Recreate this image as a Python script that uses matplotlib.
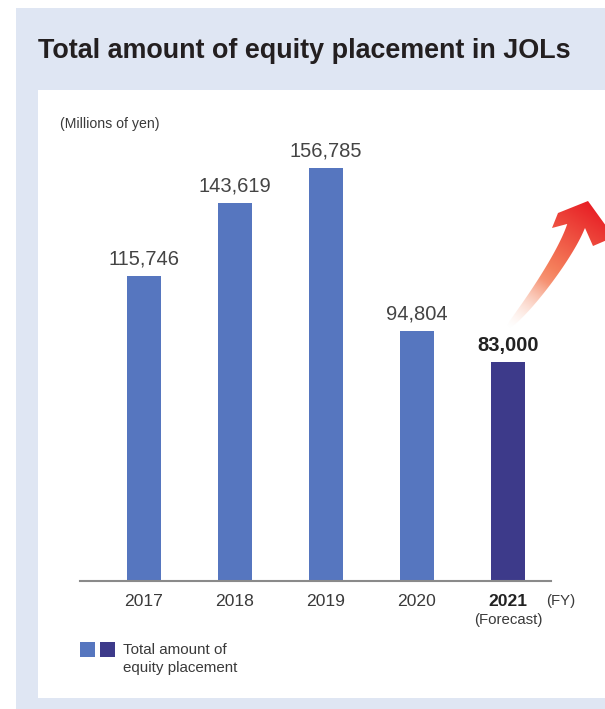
import numpy as np
import matplotlib
matplotlib.use("Agg")
import matplotlib.pyplot as plt
from matplotlib.patches import Rectangle, Polygon

plt.rcParams["font.family"] = ["Liberation Sans", "DejaVu Sans"]

years = ["2017", "2018", "2019", "2020", "2021"]
amounts = [115746, 143619, 156785, 94804, 83000]
forecast = [False, False, False, False, True]

LIGHT = "#5676BF"
DARK = "#3D3A8A"
PANEL = "#DFE6F3"
TXT = "#3a3a3a"

W, H = 605, 709
fig = plt.figure(figsize=(W / 100, H / 100), dpi=100)

# background layer in pixel coordinates (origin top-left)
bg = fig.add_axes([0, 0, 1, 1])
bg.set_xlim(0, W)
bg.set_ylim(H, 0)
bg.axis("off")
bg.add_patch(Rectangle((16, 8), W - 16, H - 8, color=PANEL, lw=0))
bg.add_patch(Rectangle((38, 90), W - 38, 608, color="white", lw=0))

bg.text(38, 51, "Total amount of equity placement in JOLs", fontsize=19.4,
        fontweight="bold", color="#231f20", ha="left", va="center")
bg.text(60, 124, "(Millions of yen)", fontsize=10.2, color=TXT, ha="left", va="center")

# bar chart
x0, x1, base, top = 80, 551, 581, 100
ax = fig.add_axes([x0 / W, (H - base) / H, (x1 - x0) / W, (base - top) / H])
ax.patch.set_alpha(0)
step = 91
xs = np.arange(len(years))
ax.set_xlim((x0 - 144) / step, (x1 - 144) / step)
ax.set_ylim(0, (base - top) / 0.002634)
colors = [DARK if f else LIGHT for f in forecast]
ax.bar(xs, amounts, width=0.374, color=colors)
for x, v, f in zip(xs, amounts, forecast):
    ax.annotate(f"{v:,}", (x, v), xytext=(0, 5.5), textcoords="offset points",
                ha="center", va="bottom", fontsize=14.5,
                fontweight="bold" if f else "normal",
                color="#222222" if f else "#444444")

for s in ["top", "left", "right"]:
    ax.spines[s].set_visible(False)
ax.spines["bottom"].set_color("#8a8a8a")
ax.spines["bottom"].set_linewidth(1.5)
ax.set_yticks([])
ax.set_xticks(xs)
ax.set_xticklabels(years, fontsize=12.6, color=TXT)
ax.tick_params(axis="x", length=0, pad=9)
for lbl, f in zip(ax.get_xticklabels(), forecast):
    if f:
        lbl.set_fontweight("bold")
        lbl.set_color("#222222")

bg.text(546, 601, "(FY)", fontsize=10.8, color=TXT, ha="left", va="center")
bg.text(508, 620, "(Forecast)", fontsize=10.8, color=TXT, ha="center", va="center")

# legend
bg.add_patch(Rectangle((80, 642), 15, 15, color=LIGHT, lw=0))
bg.add_patch(Rectangle((100, 642), 15, 15, color=DARK, lw=0))
bg.text(123, 650, "Total amount of", fontsize=10.9, color=TXT, ha="left", va="center")
bg.text(123, 668, "equity placement", fontsize=10.9, color=TXT, ha="left", va="center")

# curved gradient arrow
t = np.linspace(0, 1, 80)[:, None]
p0, c1, c2, p3 = map(np.array, [(508, 327), (529, 306), (566, 254), (576, 226)])
curve = (1 - t) ** 3 * p0 + 3 * (1 - t) ** 2 * t * c1 + 3 * (1 - t) * t ** 2 * c2 + t ** 3 * p3
d = np.gradient(curve, axis=0)
d /= np.linalg.norm(d, axis=1)[:, None]
nrm = np.column_stack([d[:, 1], -d[:, 0]])
half = 1.0 + 8.0 * np.sqrt(t)
left = curve + nrm * half
right = curve - nrm * half
if left[-1, 0] > right[-1, 0]:
    left, right = right, left
head = np.array([(567, 224), (552, 228), (558, 213), (588, 201),
                 (614, 237), (593, 246), (585, 228)])
outline = np.vstack([left[:-1], head, right[-2::-1]])
arrow = Polygon(outline, closed=True, facecolor="none", edgecolor="none")
bg.add_patch(arrow)

ex = (500, 615, 335, 195)
gx, gy = np.meshgrid(np.linspace(ex[0], ex[1], 230), np.linspace(ex[3], ex[2], 280))
a, b = np.array([508, 327]), np.array([590, 205])
v = b - a
s = ((gx - a[0]) * v[0] + (gy - a[1]) * v[1]) / (v @ v)
s = np.clip(s, 0, 1)[..., None]
c_lo = np.array([0.99, 0.88, 0.83])
c_mid = np.array([0.96, 0.50, 0.36])
c_hi = np.array([0.91, 0.13, 0.15])
rgb = np.where(s < 0.5, c_lo + (c_mid - c_lo) * (s / 0.5),
               c_mid + (c_hi - c_mid) * ((s - 0.5) / 0.5))
alpha = np.clip(s[..., 0] * 2.5, 0, 1)
img = np.dstack([rgb, alpha])
im = bg.imshow(img, extent=ex, origin="upper", interpolation="bilinear", zorder=3)
im.set_clip_path(arrow)
bg.set_xlim(0, W)
bg.set_ylim(H, 0)
bg.set_aspect("auto")

fig.savefig("out.png", dpi=100)
